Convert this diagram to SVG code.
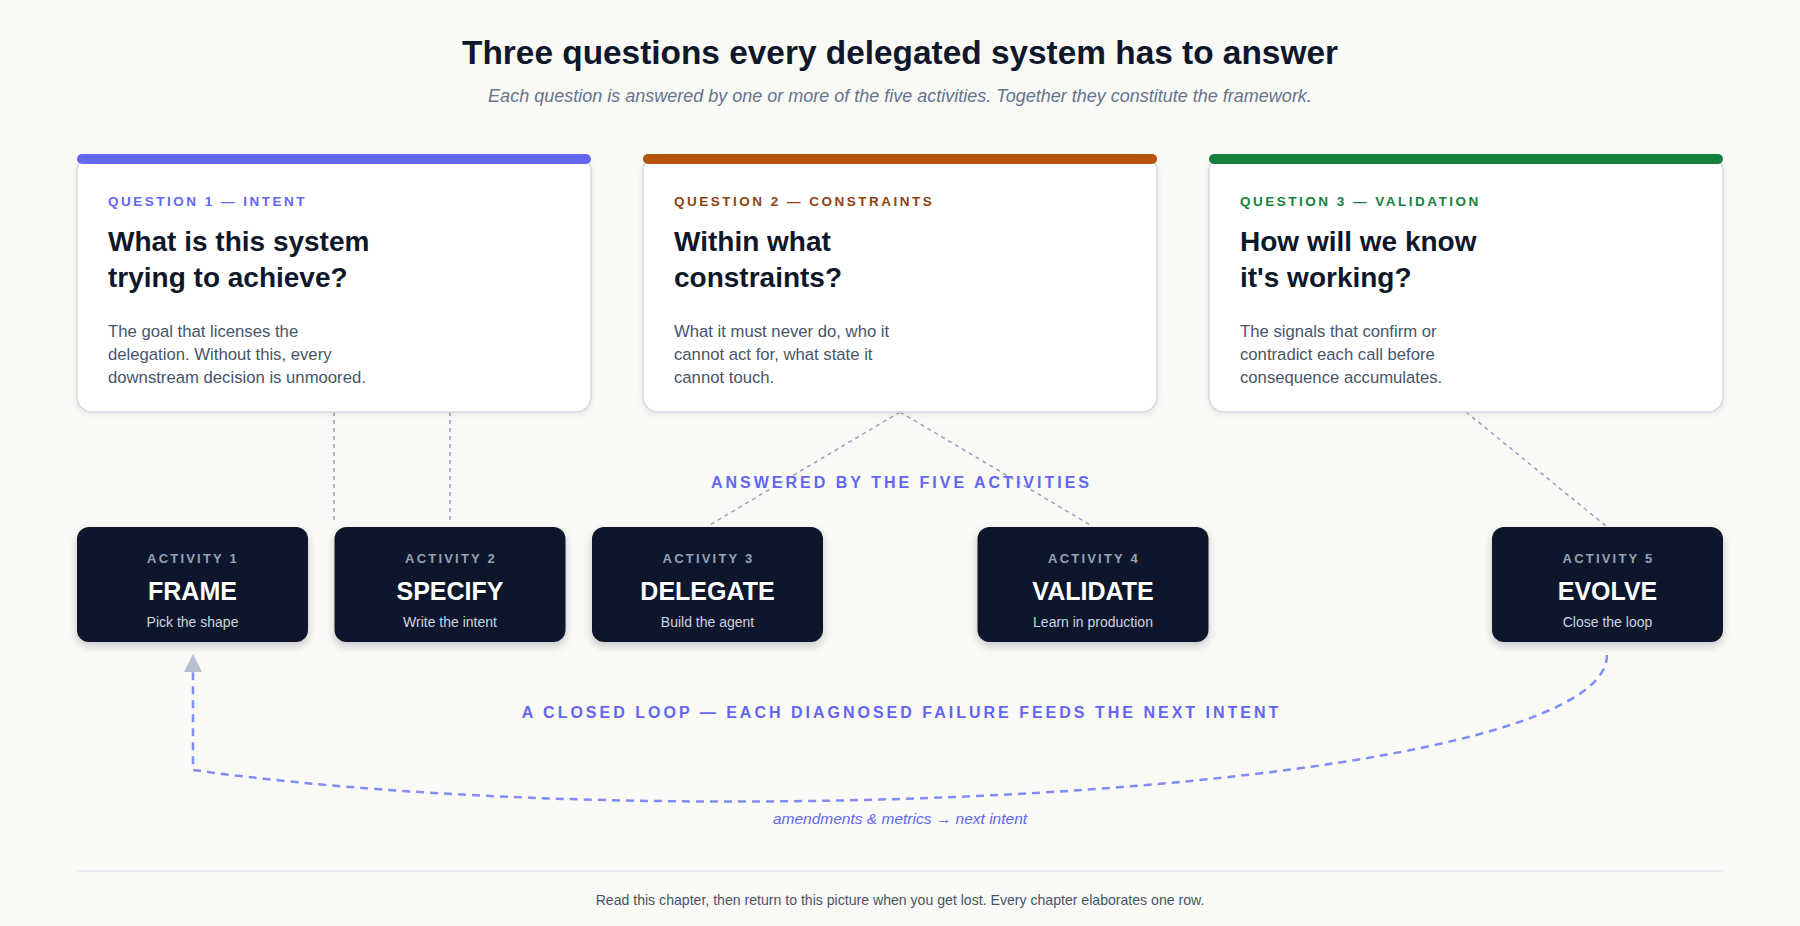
<svg xmlns="http://www.w3.org/2000/svg" width="1800" height="926" viewBox="0 0 1800 926">
  <defs>
    <style>
      .title { font-family: "Liberation Sans", Arial, sans-serif; font-weight: 700; font-size: 33.4px; fill: #0f172a; }
      .subtitle { font-family: "Liberation Sans", Arial, sans-serif; font-style: italic; font-size: 18px; fill: #64748b; }
      .qlabel { font-family: "Liberation Sans", Arial, sans-serif; font-weight: 700; font-size: 13.5px; letter-spacing: 2.5px; }
      .qhead { font-family: "Liberation Sans", Arial, sans-serif; font-weight: 700; font-size: 28px; fill: #0f172a; }
      .qbody { font-family: "Liberation Sans", Arial, sans-serif; font-size: 16.7px; fill: #475569; }
      .card { fill: #ffffff; stroke: #d4dae4; stroke-width: 1.5; }
      .act { fill: #0f172a; }
      .alabel { font-family: "Liberation Sans", Arial, sans-serif; font-weight: 700; font-size: 13px; letter-spacing: 2.2px; fill: #94a3b8; }
      .aname { font-family: "Liberation Sans", Arial, sans-serif; font-weight: 700; font-size: 25px; fill: #ffffff; }
      .adesc { font-family: "Liberation Sans", Arial, sans-serif; font-size: 14px; fill: #cbd5e1; }
      .section { font-family: "Liberation Sans", Arial, sans-serif; font-weight: 700; font-size: 16px; letter-spacing: 3px; fill: #6366f1; }
      .loopnote { font-family: "Liberation Sans", Arial, sans-serif; font-style: italic; font-size: 15.5px; fill: #6366f1; }
      .footer { font-family: "Liberation Sans", Arial, sans-serif; font-size: 14.1px; fill: #475569; }
      .link { fill: none; stroke: #94a3b8; stroke-width: 1.5; stroke-dasharray: 4 4; }
      .loop { fill: none; stroke: #818cf8; stroke-width: 2.5; stroke-dasharray: 8 6; }
    </style>
    <filter id="cardShadow" x="-5%" y="-10%" width="110%" height="125%">
      <feDropShadow dx="0" dy="2" stdDeviation="3" flood-color="#0f172a" flood-opacity="0.08"/>
    </filter>
    <filter id="actShadow" x="-10%" y="-15%" width="120%" height="140%">
      <feDropShadow dx="0" dy="4" stdDeviation="4" flood-color="#0f172a" flood-opacity="0.2"/>
    </filter>
    <marker id="arrowUp" viewBox="0 0 18 18" refX="0" refY="9" markerWidth="18" markerHeight="18" markerUnits="userSpaceOnUse" orient="auto">
      <path d="M0,0 L18,9 L0,18 Z" fill="#b6bfcd"/>
    </marker>
  </defs>

  <rect x="0" y="0" width="1800" height="926" fill="#f9f9f6"/>

  <g id="header">
    <text class="title" x="900" y="64" text-anchor="middle">Three questions every delegated system has to answer</text>
    <text class="subtitle" x="900" y="102" text-anchor="middle">Each question is answered by one or more of the five activities. Together they constitute the framework.</text>
  </g>

  <g id="connectors">
    <line class="link" x1="334" y1="412" x2="334" y2="523"/>
    <line class="link" x1="450" y1="412" x2="450" y2="523"/>
    <line class="link" x1="900" y1="412" x2="708" y2="526"/>
    <line class="link" x1="900" y1="412" x2="1092" y2="526"/>
    <line class="link" x1="1466" y1="412" x2="1606" y2="526"/>
    <path class="loop" d="M1607,655 C1607,790 700,840 193,770 L193,672" marker-end="url(#arrowUp)"/>
  </g>

  <g id="question1">
    <rect class="card" x="77" y="156" width="514" height="256" rx="15" filter="url(#cardShadow)"/>
    <rect x="77" y="154" width="514" height="10" rx="5" fill="#6366f1"/>
    <text class="qlabel" x="108" y="206" fill="#6366f1">QUESTION 1 — INTENT</text>
    <text class="qhead" x="108" y="251">What is this system</text>
    <text class="qhead" x="108" y="287">trying to achieve?</text>
    <text class="qbody" x="108" y="337">The goal that licenses the</text>
    <text class="qbody" x="108" y="360">delegation. Without this, every</text>
    <text class="qbody" x="108" y="383">downstream decision is unmoored.</text>
  </g>

  <g id="question2">
    <rect class="card" x="643" y="156" width="514" height="256" rx="15" filter="url(#cardShadow)"/>
    <rect x="643" y="154" width="514" height="10" rx="5" fill="#b45309"/>
    <text class="qlabel" x="674" y="206" fill="#92400e">QUESTION 2 — CONSTRAINTS</text>
    <text class="qhead" x="674" y="251">Within what</text>
    <text class="qhead" x="674" y="287">constraints?</text>
    <text class="qbody" x="674" y="337">What it must never do, who it</text>
    <text class="qbody" x="674" y="360">cannot act for, what state it</text>
    <text class="qbody" x="674" y="383">cannot touch.</text>
  </g>

  <g id="question3">
    <rect class="card" x="1209" y="156" width="514" height="256" rx="15" filter="url(#cardShadow)"/>
    <rect x="1209" y="154" width="514" height="10" rx="5" fill="#15803d"/>
    <text class="qlabel" x="1240" y="206" fill="#15803d">QUESTION 3 — VALIDATION</text>
    <text class="qhead" x="1240" y="251">How will we know</text>
    <text class="qhead" x="1240" y="287">it's working?</text>
    <text class="qbody" x="1240" y="337">The signals that confirm or</text>
    <text class="qbody" x="1240" y="360">contradict each call before</text>
    <text class="qbody" x="1240" y="383">consequence accumulates.</text>
  </g>

  <text class="section" x="901.5" y="488" text-anchor="middle">ANSWERED BY THE FIVE ACTIVITIES</text>

  <g id="activity1">
    <rect class="act" x="77" y="527" width="231" height="115" rx="12" filter="url(#actShadow)"/>
    <text class="alabel" x="193" y="563" text-anchor="middle">ACTIVITY 1</text>
    <text class="aname" x="192.5" y="600" text-anchor="middle">FRAME</text>
    <text class="adesc" x="192.5" y="627" text-anchor="middle">Pick the shape</text>
  </g>

  <g id="activity2">
    <rect class="act" x="334.5" y="527" width="231" height="115" rx="12" filter="url(#actShadow)"/>
    <text class="alabel" x="451" y="563" text-anchor="middle">ACTIVITY 2</text>
    <text class="aname" x="450" y="600" text-anchor="middle">SPECIFY</text>
    <text class="adesc" x="450" y="627" text-anchor="middle">Write the intent</text>
  </g>

  <g id="activity3">
    <rect class="act" x="592" y="527" width="231" height="115" rx="12" filter="url(#actShadow)"/>
    <text class="alabel" x="708.5" y="563" text-anchor="middle">ACTIVITY 3</text>
    <text class="aname" x="707.5" y="600" text-anchor="middle">DELEGATE</text>
    <text class="adesc" x="707.5" y="627" text-anchor="middle">Build the agent</text>
  </g>

  <g id="activity4">
    <rect class="act" x="977.5" y="527" width="231" height="115" rx="12" filter="url(#actShadow)"/>
    <text class="alabel" x="1094" y="563" text-anchor="middle">ACTIVITY 4</text>
    <text class="aname" x="1093" y="600" text-anchor="middle">VALIDATE</text>
    <text class="adesc" x="1093" y="627" text-anchor="middle">Learn in production</text>
  </g>

  <g id="activity5">
    <rect class="act" x="1492" y="527" width="231" height="115" rx="12" filter="url(#actShadow)"/>
    <text class="alabel" x="1608.5" y="563" text-anchor="middle">ACTIVITY 5</text>
    <text class="aname" x="1607.5" y="600" text-anchor="middle">EVOLVE</text>
    <text class="adesc" x="1607.5" y="627" text-anchor="middle">Close the loop</text>
  </g>

  <text class="section" x="901.5" y="718" text-anchor="middle">A CLOSED LOOP — EACH DIAGNOSED FAILURE FEEDS THE NEXT INTENT</text>
  <text class="loopnote" x="900" y="824" text-anchor="middle">amendments &amp; metrics → next intent</text>

  <g id="footer">
    <line x1="77" y1="871" x2="1723" y2="871" stroke="#e2e8f0" stroke-width="1.5"/>
    <text class="footer" x="900" y="905" text-anchor="middle">Read this chapter, then return to this picture when you get lost. Every chapter elaborates one row.</text>
  </g>
</svg>
